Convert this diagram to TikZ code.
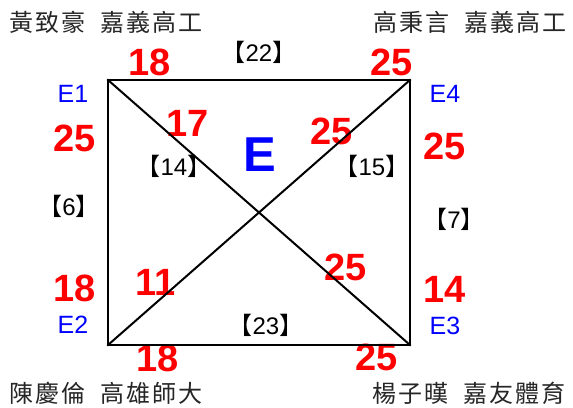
\documentclass[tikz,border=0pt]{standalone}
\usepackage{fontspec}
\setmainfont{Liberation Sans}
\newfontfamily\cjk{Noto Sans CJK TC}
\newfontfamily\cjkname{Noto Sans CJK TC}[LetterSpace=8]
\usepackage{tikz}
\usetikzlibrary{positioning}

\newcommand{\gameno}[1]{{\cjk 【}#1{\cjk 】}}

\begin{document}
\begin{tikzpicture}[x=1pt, y=1pt, every edge/.append style={line width=2pt, line cap=rect}, score/.style={text=red, font=\fontsize{38}{38}\selectfont\bfseries, inner sep=0pt}, team/.style={text=blue, font=\fontsize{25}{25}\selectfont, inner sep=0pt}, game/.style={font=\fontsize{24}{24}\selectfont, inner sep=0pt}, player/.style={text=black!85, font=\cjkname\fontsize{24}{24}\selectfont, inner sep=0pt}]

\useasboundingbox (0,0) rectangle (573,407);

\coordinate (c1) at (108,327);
\coordinate (c4) at (410,327);
\coordinate (c2) at (108,62);
\coordinate (c3) at (410,62);

\node[team] (E1) at (73,313) {E1};
\node[team] (E4) at (445,313) {E4};
\node[team] (E2) at (73,82) {E2};
\node[team] (E3) at (445,81) {E3};
\node[team, font=\fontsize{49}{49}\selectfont\bfseries] (E) at (260,252) {E};

\node[player] (p1) at (106,385) {黃致豪\hspace{15pt}嘉義高工};
\node[player] (p4) at (470,385) {高秉言\hspace{15pt}嘉義高工};
\node[player] (p2) at (106,14) {陳慶倫\hspace{15pt}高雄師大};
\node[player] (p3) at (469,14) {楊子暵\hspace{15pt}嘉友體育};

\node[game] (g22) at (259,355) {\gameno{22}};
\node[game] (g14) at (174,241) {\gameno{14}};
\node[game] (g15) at (372,241) {\gameno{15}};
\node[game] (g6) at (69,201) {\gameno{6}};
\node[game] (g7) at (454,188) {\gameno{7}};
\node[game] (g23) at (266,82) {\gameno{23}};

\node[score] (s1) at (150,345) {18};
\node[score] (s2) at (392,345) {25};
\node[score] (s3) at (75,269) {25};
\node[score] (s4) at (188,284) {17};
\node[score] (s5) at (332,276) {25};
\node[score] (s6) at (445,261) {25};
\node[score] (s7) at (75,119) {18};
\node[score] (s8) at (156,125) {11};
\node[score] (s9) at (346,140) {25};
\node[score] (s10) at (445,118) {14};
\node[score] (s11) at (158,49) {18};
\node[score] (s12) at (377,50) {25};

\path
    (c1) edge (c4)
    (c4) edge (c3)
    (c3) edge (c2)
    (c2) edge (c1)
    (c1) edge (c3)
    (c2) edge (c4);
\end{tikzpicture}
\end{document}
